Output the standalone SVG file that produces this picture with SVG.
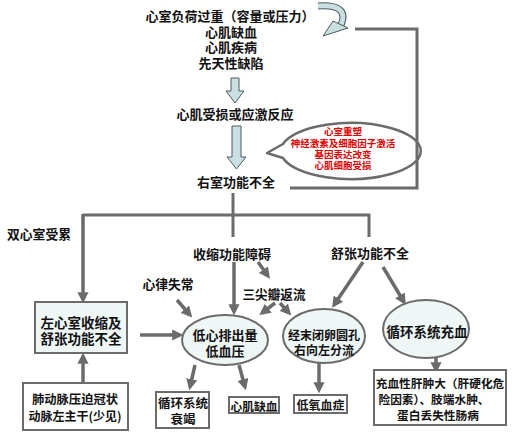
<svg xmlns="http://www.w3.org/2000/svg" width="512" height="435" viewBox="0 0 512 435">
<style>
text{font-family:"Noto Sans CJK SC","Noto Sans",sans-serif;font-weight:bold;fill:#111;text-anchor:middle;dominant-baseline:central}
.ln{fill:none;stroke:#6b6b6b;stroke-width:3}
.ar{fill:none;stroke:#6b6b6b;stroke-width:3.5;marker-end:url(#ah)}
.nd{fill:#eef6f6;stroke:#6b6b6b;stroke-width:2}
.bx{fill:#fff;stroke:#6b6b6b;stroke-width:2}
.blk{fill:#c9dfe2;stroke:#4f5a5e;stroke-width:1}
.red{fill:#e00000;font-size:9.5px}
</style>
<defs>
<marker id="ah" viewBox="0 0 10 10" refX="7" refY="5" markerWidth="3.2" markerHeight="3.2" orient="auto" markerUnits="strokeWidth">
<path d="M0,0 L10,5 L0,10 z" fill="#6b6b6b"/>
</marker>
</defs>
<rect width="512" height="435" fill="#fff"/>

<g id="causes">
<text x="230" y="15" font-size="13">心室负荷过重（容量或压力）</text>
<text x="231" y="31" font-size="13">心肌缺血</text>
<text x="231" y="46" font-size="13">心肌疾病</text>
<text x="231" y="62" font-size="13">先天性缺陷</text>
</g>

<g id="loop-arrow">
<path d="M318,6 Q350,4 341,25" fill="none" stroke="#4f5a5e" stroke-width="7"/>
<path d="M318,6 Q350,4 341,25" fill="none" stroke="#c9dfe2" stroke-width="5"/>
<polygon points="333,21 348,28 323,36" class="blk"/>
</g>

<g id="block-arrows">
<polygon class="blk" points="231,78 239,78 239,91 244,91 235,103 226,91 231,91"/>
<polygon class="blk" points="232,126 241,126 241,157 246,157 236.5,169 227,157 232,157"/>
</g>

<g id="injury"><text x="235" y="113" font-size="13">心肌受损或应激反应</text></g>
<g id="rv"><text x="236" y="181" font-size="13">右室功能不全</text></g>

<g id="callout">
<path d="M267,153 L283,144 A70,28 0 1 1 283,158 Z" fill="#fff" stroke="#6b6b6b" stroke-width="2.5" stroke-linejoin="round"/>
<text class="red" x="343" y="131">心室重塑</text>
<text class="red" x="343" y="143">神经激素及细胞因子激活</text>
<text class="red" x="343" y="154">基因表达改变</text>
<text class="red" x="343" y="165">心肌细胞受损</text>
</g>

<g id="connectors">
<path class="ln" d="M290,188 H417 V29 H355"/>
<path class="ln" d="M233,193 V237"/>
<path class="ln" d="M369,237 V215 H83"/>
<path class="ar" d="M83,214 V300"/>
<path class="ar" d="M234,262 V312"/>
<path class="ar" d="M258,262 L268,276"/>
<path class="ar" d="M177,300 L190,315"/>
<path class="ar" d="M275,303 L262,313"/>
<path class="ar" d="M280,303 L289,313"/>
<path class="ar" d="M363,262 L334,305"/>
<path class="ar" d="M383,267 L404,302"/>
<path class="ar" d="M140,335 L180,335"/>
<path class="ar" d="M83,383 V356"/>
<path class="ar" d="M195,365 L190,387"/>
<path class="ar" d="M239,365 L245,387"/>
<path class="ar" d="M319,363 V390"/>
<path class="ar" d="M436,358 V370"/>
</g>

<g id="both"><text x="39" y="233" font-size="12.8">双心室受累</text></g>
<g id="systolic"><text x="232" y="253" font-size="13">收缩功能障碍</text></g>
<g id="diastolic"><text x="370" y="252" font-size="13">舒张功能不全</text></g>
<g id="arrhythmia"><text x="168" y="283" font-size="12.8">心律失常</text></g>
<g id="tr"><text x="274" y="293" font-size="12.6">三尖瓣返流</text></g>

<g id="lv">
<rect class="nd" x="35" y="302" width="92" height="51"/>
<text x="81" y="322" font-size="13.5">左心室收缩及</text>
<text x="81" y="338" font-size="13.5">舒张功能不全</text>
</g>

<g id="lowco">
<ellipse class="nd" cx="225" cy="340" rx="43" ry="25"/>
<text x="225" y="334" font-size="13">低心排出量</text>
<text x="225" y="350" font-size="13">低血压</text>
</g>

<g id="shunt">
<ellipse class="nd" cx="324" cy="336" rx="41" ry="27"/>
<text x="324" y="334" font-size="12">经末闭卵圆孔</text>
<text x="324" y="349" font-size="12">右向左分流</text>
</g>

<g id="congestion">
<ellipse class="nd" cx="426" cy="329" rx="43" ry="29"/>
<text x="427" y="331" font-size="13.5">循环系统充血</text>
</g>

<g id="pa">
<rect class="bx" x="23" y="383" width="105" height="47"/>
<text x="75" y="399" font-size="12.3">肺动脉压迫冠状</text>
<text x="75" y="415" font-size="12">动脉左主干(少见)</text>
</g>

<g id="failure">
<rect class="bx" x="156" y="392" width="53" height="36"/>
<text x="183" y="402" font-size="12.5">循环系统</text>
<text x="183" y="418" font-size="12.5">衰竭</text>
</g>

<g id="ischemia">
<rect class="bx" x="229" y="397" width="50" height="16"/>
<text x="254" y="405" font-size="11.8">心肌缺血</text>
</g>

<g id="hypoxia">
<rect class="bx" x="294" y="395" width="53" height="18"/>
<text x="320.5" y="404" font-size="12">低氧血症</text>
</g>

<g id="hepato">
<rect class="bx" x="374" y="370" width="132" height="55"/>
<text x="440" y="382" font-size="11.7">充血性肝肿大（肝硬化危</text>
<text x="434" y="398" font-size="11.7">险因素）、肢端水肿、</text>
<text x="438" y="414" font-size="11.7">蛋白丢失性肠病</text>
</g>
</svg>
